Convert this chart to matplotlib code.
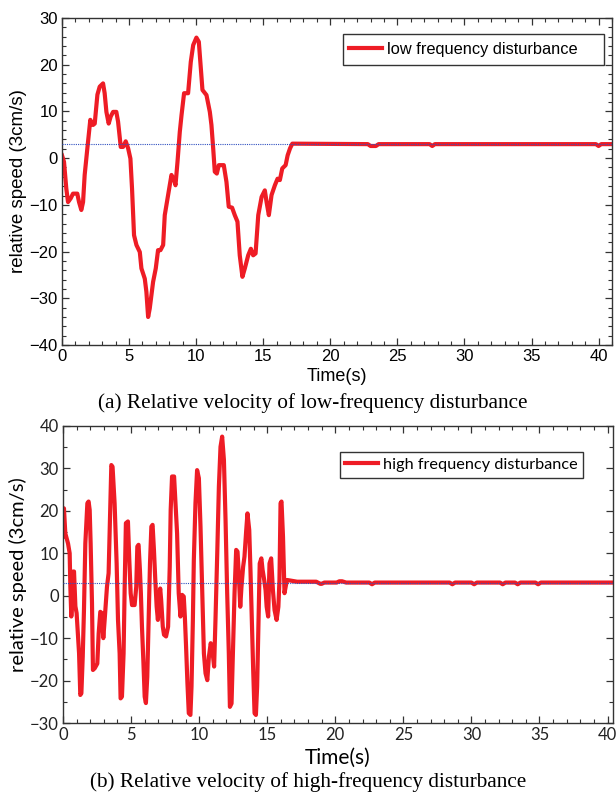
import matplotlib
matplotlib.use("Agg")
import matplotlib.pyplot as plt
from matplotlib.ticker import MultipleLocator
from matplotlib.patches import Rectangle

# ---------------- data ----------------
low_t = [0.0, 0.15, 0.32, 0.45, 0.65, 0.82, 1.14, 1.27, 1.44, 1.57, 1.69, 1.89, 2.11, 2.31, 2.44,
         2.64, 2.81, 3.06, 3.18, 3.31, 3.48, 3.63, 3.81, 4.05, 4.18, 4.38, 4.55, 4.75, 4.93, 5.1,
         5.22, 5.37, 5.55, 5.8, 5.92, 6.17, 6.29, 6.42, 6.54, 6.79, 6.99, 7.16, 7.34, 7.54, 7.66,
         7.91, 8.16, 8.36, 8.46, 8.61, 8.78, 8.91, 9.1, 9.4, 9.6, 9.78, 10.02, 10.2, 10.35, 10.47,
         10.77, 11.02, 11.14, 11.27, 11.39, 11.54, 11.69, 12.06, 12.26, 12.43, 12.68, 12.88, 13.08,
         13.25, 13.45, 13.63, 13.88, 14.08, 14.25, 14.43, 14.63, 14.88, 15.12, 15.25, 15.42, 15.62,
         15.87, 16.07, 16.24, 16.42, 16.67, 16.82, 17.0, 17.17,
         22.8, 23.0, 23.4, 23.6, 27.4, 27.6, 27.8, 39.8, 40.0, 40.2, 41.0]
low_v = [0.6, -0.8, -6.5, -9.4, -8.6, -7.6, -7.6, -9.4, -11.1, -9.4, -3.6, 2.1, 8.2, 7.1, 7.4,
         13.6, 15.3, 16.0, 13.9, 9.9, 7.4, 8.9, 9.9, 9.9, 7.8, 2.4, 2.4, 3.6, 2.1, -0.1,
         -6.5, -16.5, -18.6, -20.1, -23.6, -25.8, -28.6, -34.0, -32.2, -26.5, -23.6, -19.7, -19.7, -18.6, -12.2,
         -7.9, -3.6, -4.7, -5.8, -0.8, 5.6, 9.2, 13.9, 13.9, 20.6, 24.2, 25.8, 24.9, 19.2, 14.6,
         13.5, 9.9, 7.1, 2.1, -2.9, -3.3, -1.5, -1.5, -5.1, -10.4, -10.6, -12.2, -13.6,
         -20.8, -25.4, -23.6, -20.8, -19.4, -20.8, -20.4, -12.2, -8.3, -6.9, -9.4, -12.2, -7.9,
         -5.8, -4.4, -4.7, -2.2, -1.5, 0.6, 2.1, 3.1,
         3.0, 2.6, 2.6, 3.0, 3.0, 2.6, 3.0, 3.0, 2.6, 3.0, 3.0]

high_t = [0.0, 0.07, 0.12, 0.17, 0.37, 0.49, 0.54, 0.61, 0.69, 0.74, 0.81, 0.91, 1.0, 1.1, 1.18,
          1.27, 1.35, 1.45, 1.54, 1.64, 1.79, 1.88, 1.96, 2.03, 2.13, 2.2, 2.33, 2.52, 2.62, 2.74,
          2.86, 2.96, 3.06, 3.23, 3.35, 3.47, 3.55, 3.64, 3.79, 3.94, 4.04, 4.16, 4.23, 4.33, 4.45,
          4.53, 4.62, 4.77, 4.87, 4.97, 5.07, 5.26, 5.38, 5.46, 5.55, 5.65, 5.72, 5.8, 5.9, 6.0,
          6.09, 6.19, 6.29, 6.39, 6.49, 6.58, 6.68, 6.78, 6.88, 6.97, 7.07, 7.14, 7.21, 7.33, 7.42,
          7.57, 7.72, 7.84, 7.91, 8.01, 8.16, 8.26, 8.38, 8.5, 8.63, 8.75, 8.87, 8.95, 9.04, 9.14,
          9.24, 9.36, 9.44, 9.54, 9.61, 9.73, 9.85, 9.98, 10.1, 10.22, 10.35, 10.47, 10.6, 10.72,
          10.85, 10.97, 11.1, 11.2, 11.33, 11.45, 11.57, 11.69, 11.82, 11.94, 12.06, 12.18, 12.26,
          12.38, 12.48, 12.6, 12.72, 12.82, 12.92, 13.02, 13.11, 13.23, 13.33, 13.46, 13.55, 13.68,
          13.77, 13.87, 13.97, 14.07, 14.17, 14.26, 14.36, 14.45, 14.57, 14.66, 14.78, 14.88, 14.96,
          15.07, 15.17, 15.29, 15.42, 15.54, 15.69, 15.82, 15.9, 15.98, 16.05, 16.16, 16.27, 16.4,
          16.47, 17.2, 18.6, 18.9, 19.0, 19.2, 20.1, 20.3, 20.5, 20.8, 22.5, 22.7, 22.9, 28.4, 28.6,
          28.8, 30.0, 30.2, 30.4, 32.1, 32.3, 32.5, 33.2, 33.4, 33.6, 34.7, 34.9, 35.1, 40.4]
high_v = [14.0, 20.6, 17.8, 14.7, 12.3, 10.0, 2.1, -4.9, -0.2, 5.7, 5.7, -2.5, -4.1, -9.6, -13.6,
          -23.4, -23.0, -14.3, -3.4, 12.3, 21.8, 22.2, 20.2, 12.3, -1.8, -17.5, -17.1, -16.0, -8.9, -3.8,
          -4.1, -10.0, -5.7, 2.1, 5.3, 21.0, 30.8, 30.4, 21.8, 7.6, -5.7, -13.6, -24.2, -23.8, -13.6,
          2.1, 17.1, 17.5, 8.4, 0.6, -2.2, -2.2, 2.1, 11.6, 12.0, 6.1, 0.6, -7.3, -15.1, -23.8,
          -25.3, -19.1, -5.7, 7.6, 16.3, 16.7, 10.8, 3.7, -2.6, -5.7, -0.2, 1.7, -1.0, -7.3, -9.2,
          -9.6, -7.3, 6.8, 20.2, 28.1, 28.1, 21.8, 14.7, 0.6, -4.9, 0.2, -0.2, -4.9, -12.0, -20.6,
          -27.7, -28.1, -21.4, -5.7, 8.4, 21.8, 29.6, 27.7, 16.3, 2.1, -13.6, -18.3, -19.9, -14.3,
          -11.2, -12.8, -16.7, -5.7, 10.0, 25.7, 35.1, 37.5, 32.0, 17.8, 0.6, -13.6, -26.2,
          -25.4, -13.6, 0.6, 10.8, 10.4, 4.5, -2.6, 2.1, 6.8, 9.2, 15.5, 19.4, 15.5,
          6.1, -5.7, -17.5, -27.7, -28.1, -21.4, -5.7, 7.6, 8.8, 6.1, 3.7, 1.3, -2.6,
          -4.9, 7.6, 8.8, 1.3, -3.4, -5.7, -2.6, 3.7, 21.8, 22.2, 13.9, 0.6, 2.9,
          3.7, 3.3, 3.3, 2.8, 2.8, 3.1, 3.1, 3.4, 3.4, 3.1, 3.1, 2.7, 3.1, 3.1, 2.7,
          3.1, 3.1, 2.7, 3.1, 3.1, 2.7, 3.1, 3.1, 2.7, 3.1, 3.1, 2.7, 3.1, 3.1]

ref_level = 3.0
low_label = "low frequency disturbance"
high_label = "high frequency disturbance"
ylabel_text = "relative speed (3cm/s)"
xlabel_text = "Time(s)"
caption_a = "(a) Relative velocity of low-frequency disturbance"
caption_b = "(b) Relative velocity of high-frequency disturbance"

# ---------------- figure ----------------
W, H = 616, 792
fig = plt.figure(figsize=(W / 100, H / 100), dpi=100)

RED = "#ee1c25"
BLUE = "#3050c0"
EDGE = "#333333"


def px_axes(l, t, r, b):
    return fig.add_axes([l / W, 1 - b / H, (r - l) / W, (b - t) / H])


def style_axes(ax, font, fs, color):
    ax.tick_params(which="both", direction="in", top=True, right=True, colors=EDGE,
                   labelcolor=color)
    ax.tick_params(which="major", length=5, width=0.9, labelsize=fs, pad=3)
    ax.tick_params(which="minor", length=2.8, width=0.8)
    for s in ax.spines.values():
        s.set_linewidth(1.0)
        s.set_color(EDGE)
    for lab in ax.get_xticklabels() + ax.get_yticklabels():
        lab.set_family(font)


def ax_frac(px, py, L, T, R, B):
    return (px - L) / (R - L), 1 - (py - T) / (B - T)


# ----- top panel -----
L1, T1, R1, B1 = 62, 18, 612, 345
ax1 = px_axes(L1, T1, R1, B1)
ax1.plot(low_t, low_v, color=RED, lw=3.0, label=low_label, zorder=2, solid_joinstyle="round")
ax1.axhline(ref_level, color=BLUE, lw=0.8, ls=(0, (1, 1)), zorder=3)
ax1.set_xlim(0, 41)
ax1.set_ylim(-40, 30)
ax1.xaxis.set_major_locator(MultipleLocator(5))
ax1.xaxis.set_minor_locator(MultipleLocator(1))
ax1.yaxis.set_major_locator(MultipleLocator(10))
ax1.yaxis.set_minor_locator(MultipleLocator(2))
style_axes(ax1, "Liberation Sans", 12, "black")
ax1.set_ylabel(ylabel_text, family="Liberation Sans", fontsize=13.5, labelpad=2)
ax1.set_xlabel(xlabel_text, family="Liberation Sans", fontsize=13, labelpad=2.5)

# legend box drawn separately (asymmetric padding as in the reference)
bx0, by0 = ax_frac(343, 65, L1, T1, R1, B1)
bx1, by1 = ax_frac(604, 34, L1, T1, R1, B1)
ax1.add_patch(Rectangle((bx0, by0), bx1 - bx0, by1 - by0, transform=ax1.transAxes,
                        facecolor="white", edgecolor=EDGE, lw=1.0, zorder=4))
lx, ly = ax_frac(349, 49.5, L1, T1, R1, B1)
leg1 = ax1.legend(loc="center left", bbox_to_anchor=(lx, ly), borderaxespad=0, borderpad=0,
                  frameon=False, handlelength=2.0, handletextpad=0.3,
                  prop={"family": "Liberation Sans", "size": 11.8})
leg1.set_zorder(5)
fig.text(313 / W, 1 - 403 / H, caption_a, ha="center", va="center",
         family="Liberation Serif", fontsize=15.3)

# ----- bottom panel -----
L2, T2, R2, B2 = 63, 426, 613, 723
ax2 = px_axes(L2, T2, R2, B2)
ax2.plot(high_t, high_v, color=RED, lw=3.0, label=high_label, zorder=2, solid_joinstyle="round")
ax2.axhline(ref_level, color=BLUE, lw=0.8, ls=(0, (1, 1)), zorder=3)
ax2.set_xlim(0, 40.4)
ax2.set_ylim(-30, 40)
ax2.xaxis.set_major_locator(MultipleLocator(5))
ax2.xaxis.set_minor_locator(MultipleLocator(1))
ax2.yaxis.set_major_locator(MultipleLocator(10))
ax2.yaxis.set_minor_locator(MultipleLocator(5))
style_axes(ax2, "Lato", 12, "#222222")
ax2.set_ylabel(ylabel_text, family="Lato", fontsize=14.5, labelpad=2)
ax2.set_xlabel(xlabel_text, family="Lato", fontsize=15, labelpad=3.5)
rx, ry = ax_frac(583, 452, L2, T2, R2, B2)
leg2 = ax2.legend(loc="upper right", bbox_to_anchor=(rx, ry), borderaxespad=0,
                  fancybox=False, framealpha=1, edgecolor=EDGE, handlelength=2.0,
                  handletextpad=0.3, borderpad=0.35, prop={"family": "Lato", "size": 11.7})
leg2.get_frame().set_linewidth(1.0)
fig.text(308 / W, 1 - 782 / H, caption_b, ha="center", va="center",
         family="Liberation Serif", fontsize=15.3)

fig.savefig("out.png", dpi=100)
